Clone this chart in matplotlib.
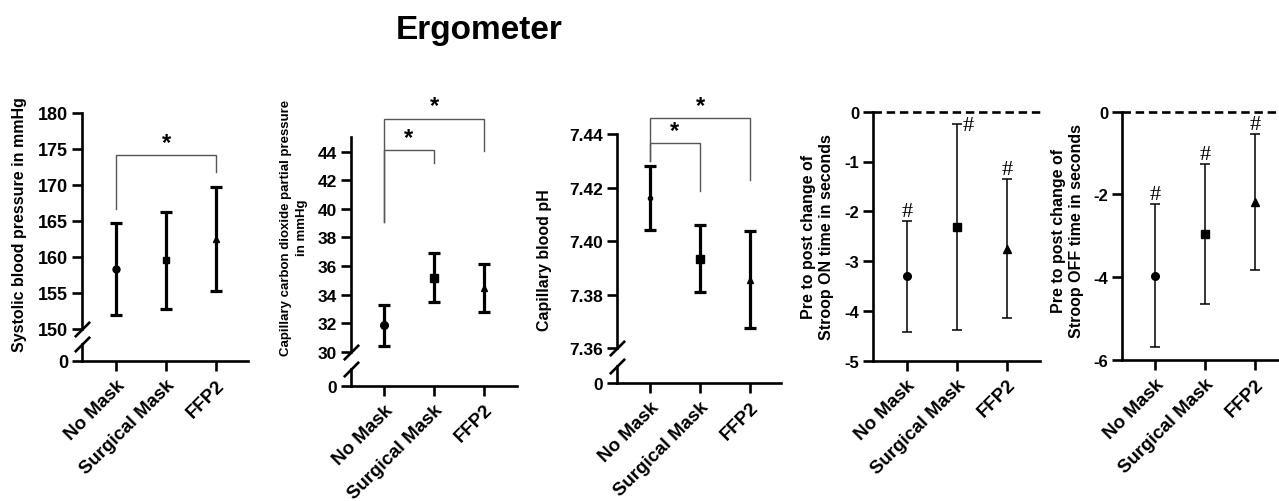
import matplotlib
matplotlib.use("Agg")
import matplotlib.pyplot as plt
import numpy as np

plt.rcParams["font.family"] = ["Liberation Sans", "DejaVu Sans"]
plt.rcParams["font.weight"] = "bold"

W, H = 1279, 502

groups = ["No Mask", "Surgical Mask", "FFP2"]
markers = ["o", "s", "^"]

# mean and SD
sbp_mean = [158.3, 159.55, 162.5]
sbp_sd = [6.4, 6.75, 7.25]

pco2_mean = [31.85, 35.18, 34.45]
pco2_sd = [1.42, 1.72, 1.66]

ph_mean = [7.4162, 7.3935, 7.3856]
ph_sd = [0.0119, 0.0124, 0.0182]

on_mean = [-3.305, -2.315, -2.75]
on_sd = [1.115, 2.065, 1.39]

off_mean = [-3.96, -2.955, -2.18]
off_sd = [1.73, 1.695, 1.65]

# significance brackets: (left group, right group, top, left leg end, right leg end)
sbp_brackets = [(0, 2, 174.1, 166.7, 171.8)]
pco2_brackets = [(0, 2, 46.3, 39.06, 44.07), (0, 1, 44.1, 39.06, 43.21)]
ph_brackets = [(0, 2, 7.4459, 7.43, 7.4229), (0, 1, 7.4366, 7.43, 7.4188)]


def frac(left, right, top, bottom):
    return [left / W, 1 - bottom / H, (right - left) / W, (bottom - top) / H]


fig = plt.figure(figsize=(W / 100, H / 100), dpi=100)

LW = 1.9
XT_FS = 13.5


def style_axis(ax, fs):
    for s in ax.spines.values():
        s.set_linewidth(LW)
    ax.tick_params(axis="both", width=LW, length=7, labelsize=fs, pad=3)
    ax.spines["top"].set_visible(False)
    ax.spines["right"].set_visible(False)


def set_xticks(ax):
    ax.set_xticks(range(len(groups)))
    ax.set_xticklabels(groups, rotation=45, ha="right", rotation_mode="anchor",
                       fontsize=XT_FS, fontweight="bold")
    ax.tick_params(axis="x", pad=4)


def slash(ax, y):
    ax.plot([0], [y], transform=ax.transAxes, marker=[(-1, -1), (1, 1)],
            markersize=11, mew=LW, color="k", linestyle="none", clip_on=False)


def broken_panel(box, lower_box, xlim, ylim, yticks, fmt, means, sds, msizes, fs):
    ax = fig.add_axes(frac(*box))
    lo = fig.add_axes(frac(*lower_box))
    for a in (ax, lo):
        style_axis(a, fs)
        a.set_xlim(*xlim)
    ax.spines["bottom"].set_visible(False)
    ax.tick_params(axis="x", bottom=False, labelbottom=False)
    ax.set_ylim(*ylim)
    ax.set_yticks(yticks)
    ax.set_yticklabels([fmt.format(t) for t in yticks])
    lo.set_ylim(0, 1)
    lo.set_yticks([0])
    lo.set_yticklabels(["0"])
    set_xticks(lo)
    slash(ax, 0)
    slash(lo, 1)
    for i in range(3):
        ax.errorbar(i, means[i], yerr=sds[i], fmt=markers[i], color="k",
                    ms=msizes[i], elinewidth=2.3, capsize=4, capthick=2.3,
                    clip_on=False)
    return ax


def brackets(ax, items):
    for l, r, top, lend, rend in items:
        ax.plot([l, l, r, r], [lend, top, top, rend], color="#555555", lw=1.0,
                clip_on=False, solid_joinstyle="miter")
        ax.annotate("*", xy=((l + r) / 2, top), xytext=(0, 1),
                    textcoords="offset points", ha="center", va="bottom",
                    fontsize=17, fontweight="bold", annotation_clip=False)


ax1 = broken_panel((82, 248, 114, 330), (82, 248, 345, 362), (-0.68, 2.64),
                   (150, 180), np.arange(150, 181, 5), "{:.0f}",
                   sbp_mean, sbp_sd, [5, 5, 4.5], 13)
brackets(ax1, sbp_brackets)

ax2 = broken_panel((351, 517, 138.4, 352.7), (351, 517, 370, 386.7), (-0.66, 2.66),
                   (30, 45), np.arange(30, 45, 2), "{:.0f}",
                   pco2_mean, pco2_sd, [5.5, 5.5, 5], 12.5)
brackets(ax2, pco2_brackets)

ax3 = broken_panel((617, 781, 135, 349.3), (617, 781, 367, 384), (-0.66, 2.62),
                   (7.36, 7.44), np.linspace(7.36, 7.44, 5), "{:.2f}",
                   ph_mean, ph_sd, [3, 5.5, 4], 12.5)
brackets(ax3, ph_brackets)


def change_panel(box, xlim, ylim, yticks, means, sds, hash_offsets):
    ax = fig.add_axes(frac(*box))
    style_axis(ax, 12)
    ax.set_xlim(*xlim)
    ax.set_ylim(*ylim)
    ax.set_yticks(yticks)
    ax.set_yticklabels([f"{t:.0f}" for t in yticks])
    set_xticks(ax)
    ax.axhline(0, color="k", lw=LW, ls=(0, (3.2, 1.8)), clip_on=False)
    for i in range(3):
        ax.errorbar(i, means[i], yerr=sds[i], fmt=markers[i], color="k",
                    ms=5.5, elinewidth=1.1, capsize=3.5, capthick=1.1,
                    clip_on=False)
        dx, dy, va = hash_offsets[i]
        ax.annotate("#", xy=(i, means[i] + sds[i]), xytext=(dx, dy),
                    textcoords="offset points", ha="center", va=va,
                    fontsize=16, fontweight="normal", family="Liberation Serif",
                    annotation_clip=False)
    return ax


change_panel((873, 1040, 112.7, 361.7), (-0.674, 2.666), (-5, 0),
             np.arange(0, -5.5, -1), on_mean, on_sd,
             [(0, 0, "bottom"), (8, -1, "center"), (0, 0, "bottom")])
change_panel((1122, 1279, 112.7, 361), (-0.66, 2.48), (-6, 0),
             np.arange(0, -6.5, -2), off_mean, off_sd,
             [(0, 0, "bottom"), (0, 0, "bottom"), (0, 0, "bottom")])

# axis titles
ylab = [
    ("Systolic blood pressure in mmHg", 20, 225, 11.5, 1.2),
    ("Capillary carbon dioxide partial pressure\nin mmHg", 294, 228, 9.5, 1.35),
    ("Capillary blood pH", 545, 260, 11.5, 1.2),
    ("Pre to post change of\nStroop ON time in seconds", 817.5, 237, 11.5, 1.25),
    ("Pre to post change of\nStroop OFF time in seconds", 1067.5, 231, 11.5, 1.25),
]
for txt, x, y, fs, ls in ylab:
    fig.text(x / W, 1 - y / H, txt, rotation=90, ha="center", va="center",
             fontsize=fs, fontweight="bold", linespacing=ls)

fig.text(479 / W, 1 - 39.5 / H, "Ergometer", ha="center", va="baseline",
         fontsize=24, fontweight="bold")

fig.savefig("out.png", dpi=100)
